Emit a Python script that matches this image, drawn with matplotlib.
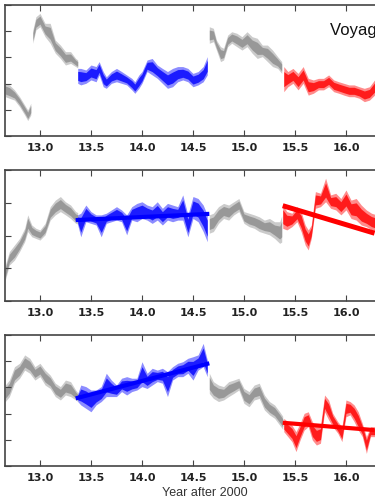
import matplotlib
matplotlib.use("Agg")
import matplotlib.pyplot as plt
import numpy as np

# ---------------- data (years after 2000, values in tick units) ----------------
# Panel 1
p1_grayA_x = [12.66, 12.70, 12.75, 12.80, 12.85, 12.88, 12.91]
p1_grayA_lo = [1.50, 1.44, 1.37, 1.12, 0.80, 0.59, 0.80]
p1_grayA_hi = [2.01, 1.95, 1.76, 1.50, 1.18, 0.99, 1.25]

p1_grayB_x = [12.93, 12.96, 13.00, 13.05, 13.10, 13.15, 13.20, 13.25, 13.30, 13.35, 13.37]
p1_grayB_lo = [3.54, 4.05, 4.17, 3.79, 3.54, 3.16, 2.96, 2.71, 2.77, 2.65, 2.60]
p1_grayB_hi = [4.05, 4.55, 4.68, 4.30, 4.30, 3.66, 3.47, 3.22, 3.22, 2.96, 2.90]

p1_blue_x = [13.37, 13.40, 13.45, 13.50, 13.55, 13.58, 13.62, 13.65, 13.70, 13.75, 13.80,
             13.85, 13.90, 13.93, 13.97, 14.00, 14.05, 14.10, 14.15, 14.20, 14.25, 14.30,
             14.35, 14.40, 14.45, 14.50, 14.55, 14.60, 14.64]
p1_blue_lo = [2.01, 1.95, 2.01, 2.14, 2.07, 2.33, 1.88, 1.82, 2.01, 2.07, 2.01,
              1.95, 1.76, 1.63, 1.82, 2.01, 2.46, 2.33, 2.20, 2.01, 1.82, 1.88,
              2.07, 2.14, 2.07, 1.88, 1.95, 2.07, 2.33]
p1_blue_hi = [2.58, 2.58, 2.52, 2.71, 2.65, 2.84, 2.46, 2.26, 2.46, 2.58, 2.46,
              2.33, 2.20, 2.07, 2.33, 2.46, 2.90, 2.96, 2.71, 2.58, 2.46, 2.58,
              2.65, 2.65, 2.58, 2.39, 2.46, 2.65, 3.03]

p1_grayC_x = [14.66, 14.70, 14.73, 14.77, 14.80, 14.84, 14.88, 14.93, 14.98, 15.03, 15.08,
              15.13, 15.18, 15.23, 15.28, 15.33, 15.37]
p1_grayC_lo = [3.54, 3.60, 3.28, 2.84, 2.90, 3.41, 3.54, 3.41, 3.28, 3.41, 3.16,
               2.96, 3.03, 2.84, 2.65, 2.58, 2.39]
p1_grayC_hi = [4.17, 4.11, 3.66, 3.41, 3.35, 3.85, 3.98, 3.92, 3.79, 3.98, 3.79,
               3.73, 3.47, 3.47, 3.28, 3.03, 2.84]

p1_red_x = [15.39, 15.43, 15.48, 15.53, 15.58, 15.63, 15.68, 15.73, 15.78, 15.83, 15.88,
            15.93, 15.98, 16.03, 16.08, 16.13, 16.18, 16.23, 16.28, 16.32]
p1_red_lo = [1.69, 1.88, 2.01, 1.76, 2.01, 1.56, 1.63, 1.76, 1.76, 1.88, 1.69,
             1.63, 1.56, 1.50, 1.50, 1.44, 1.31, 1.37, 1.56, 1.60]
p1_red_hi = [2.65, 2.46, 2.58, 2.39, 2.65, 2.20, 2.14, 2.20, 2.20, 2.33, 2.14,
             2.07, 2.01, 1.95, 1.95, 1.88, 1.82, 1.88, 2.14, 2.10]

# Panel 2
p2_grayA_x = [12.66, 12.70, 12.75, 12.80, 12.85, 12.88, 12.92, 12.96, 13.00, 13.05, 13.10,
              13.15, 13.20, 13.25, 13.30, 13.35, 13.37]
p2_grayA_lo = [0.64, 1.10, 1.25, 1.51, 1.81, 2.12, 1.96, 1.91, 1.86, 2.02, 2.47,
               2.63, 2.73, 2.63, 2.52, 2.37, 2.35]
p2_grayA_hi = [1.10, 1.51, 1.71, 1.91, 2.22, 2.63, 2.32, 2.22, 2.17, 2.37, 2.88,
               3.08, 3.19, 3.03, 2.93, 2.73, 2.70]

p2_blue_x = [13.37, 13.40, 13.45, 13.50, 13.55, 13.60, 13.65, 13.70, 13.75, 13.80, 13.85,
             13.90, 13.95, 14.00, 14.05, 14.10, 14.15, 14.20, 14.25, 14.30, 14.35, 14.40,
             14.45, 14.50, 14.55, 14.60, 14.64]
p2_blue_lo = [2.32, 1.96, 2.42, 2.37, 2.32, 1.96, 2.37, 2.42, 2.47, 2.42, 2.02,
              2.47, 2.42, 2.52, 2.47, 2.37, 2.47, 2.32, 2.47, 2.42, 2.47, 2.47,
              1.96, 2.52, 2.42, 2.12, 1.81]
p2_blue_hi = [2.63, 2.68, 2.93, 2.73, 2.63, 2.63, 2.68, 2.78, 2.88, 2.78, 2.63,
              2.88, 2.98, 3.03, 2.93, 2.88, 3.03, 2.83, 2.98, 2.93, 2.88, 3.24,
              2.63, 3.19, 3.13, 2.93, 2.63]
p2_blue_fit_x = [13.35, 14.66]
p2_blue_fit_y = [2.47, 2.66]

p2_grayC_x = [14.66, 14.70, 14.75, 14.80, 14.85, 14.90, 14.95, 15.00, 15.05, 15.10, 15.15,
              15.20, 15.25, 15.30, 15.35, 15.37]
p2_grayC_lo = [2.07, 2.12, 2.37, 2.52, 2.47, 2.63, 2.73, 2.37, 2.27, 2.22, 2.12,
               2.07, 2.02, 1.91, 1.76, 1.80]
p2_grayC_hi = [2.63, 2.68, 2.88, 2.98, 2.93, 3.03, 3.13, 2.73, 2.68, 2.63, 2.57,
               2.47, 2.52, 2.42, 2.42, 2.60]

p2_red_x = [15.38, 15.42, 15.47, 15.52, 15.56, 15.60, 15.63, 15.66, 15.70, 15.75, 15.80,
            15.85, 15.90, 15.95, 16.00, 16.05, 16.10, 16.15, 16.20, 16.25, 16.30]
p2_red_lo = [2.22, 2.17, 2.27, 2.42, 2.12, 1.71, 1.56, 1.91, 2.83, 2.88, 3.03,
             2.83, 2.78, 2.63, 2.78, 2.52, 2.47, 2.32, 2.27, 2.17, 2.12]
p2_red_hi = [2.93, 2.73, 2.68, 2.88, 2.73, 2.32, 2.17, 2.32, 3.34, 3.29, 3.75,
             3.24, 3.29, 3.13, 3.39, 3.08, 3.13, 2.93, 2.78, 2.68, 2.63]
p2_red_fit_x = [15.38, 16.28]
p2_red_fit_y = [2.91, 2.07]

# Panel 3
p3_grayA_x = [12.66, 12.70, 12.75, 12.80, 12.85, 12.90, 12.95, 13.00, 13.05, 13.10, 13.15,
              13.20, 13.25, 13.30, 13.35, 13.37]
p3_grayA_lo = [2.46, 2.65, 3.16, 3.35, 3.66, 3.54, 3.28, 3.41, 3.09, 2.96, 2.65,
               2.52, 2.71, 2.65, 2.52, 2.46]
p3_grayA_hi = [3.09, 3.28, 3.79, 3.92, 4.24, 4.11, 3.79, 3.92, 3.66, 3.47, 3.16,
               3.03, 3.28, 3.22, 2.90, 2.80]

p3_blue_x = [13.37, 13.40, 13.45, 13.50, 13.55, 13.60, 13.65, 13.70, 13.75, 13.80, 13.85,
             13.90, 13.95, 14.00, 14.05, 14.10, 14.15, 14.20, 14.25, 14.30, 14.35, 14.40,
             14.45, 14.50, 14.55, 14.60, 14.64]
p3_blue_lo = [2.46, 2.33, 2.20, 2.07, 2.33, 2.46, 2.65, 2.65, 2.65, 2.84, 2.71,
              2.84, 2.90, 3.03, 2.96, 3.09, 3.22, 3.16, 2.65, 3.28, 3.41, 3.41,
              3.54, 3.28, 3.66, 3.79, 3.41]
p3_blue_hi = [2.77, 3.09, 3.03, 2.90, 2.90, 3.03, 3.54, 3.28, 3.09, 3.35, 3.41,
              3.35, 3.35, 3.98, 3.54, 3.73, 3.66, 3.73, 3.60, 3.79, 3.92, 3.98,
              4.11, 4.17, 4.24, 4.68, 4.05]
p3_blue_fit_x = [13.35, 14.66]
p3_blue_fit_y = [2.58, 3.92]

p3_grayC_x = [14.66, 14.70, 14.75, 14.80, 14.85, 14.90, 14.95, 15.00, 15.05, 15.10, 15.15,
              15.20, 15.25, 15.30, 15.35, 15.38]
p3_grayC_lo = [2.77, 2.58, 2.46, 2.52, 2.65, 2.77, 2.90, 2.39, 2.26, 2.52, 2.58,
               2.14, 1.95, 1.82, 1.56, 1.40]
p3_grayC_hi = [3.54, 3.22, 3.09, 3.03, 3.22, 3.28, 3.35, 2.96, 2.84, 3.09, 3.16,
               2.71, 2.46, 2.33, 2.07, 1.90]

p3_red_x = [15.39, 15.43, 15.47, 15.51, 15.55, 15.59, 15.63, 15.67, 15.71, 15.75, 15.79,
            15.83, 15.87, 15.92, 15.96, 16.00, 16.04, 16.08, 16.12, 16.16, 16.20, 16.24, 16.30]
p3_red_lo = [1.31, 1.12, 0.93, 0.55, 0.99, 1.37, 1.50, 0.99, 0.80, 0.87, 2.07,
             1.76, 1.50, 1.25, 0.93, 1.88, 1.95, 1.69, 1.37, 1.12, 0.48, 1.12, 1.12]
p3_red_hi = [1.82, 1.69, 1.56, 1.31, 1.63, 2.01, 2.07, 1.69, 1.50, 1.56, 2.71,
             2.52, 2.01, 1.69, 1.50, 2.52, 2.46, 2.33, 2.07, 1.63, 1.12, 1.50, 1.50]
p3_red_fit_x = [15.38, 16.28]
p3_red_fit_y = [1.65, 1.37]

xticks = [13.0, 13.5, 14.0, 14.5, 15.0, 15.5, 16.0]
xticklabels = ["13.0", "13.5", "14.0", "14.5", "15.0", "15.5", "16.0"]
xlabel = "Year after 2000"
title_text = "Voyager 1"

# ---------------- styling / layout ----------------
GRAY = "#8c8c8c"
BLUE = "#0000ff"
RED = "#ff0000"
SPINE = "#444444"

W, H = 375, 500
x0, x1 = 12.657, 16.9
px_per_year = 102.0
ax_left = 5 / W
ax_width = (x1 - x0) * px_per_year / W

panels = [
    dict(top=5, bottom=136, ymax=5,
         bands=[(p1_grayA_x, p1_grayA_lo, p1_grayA_hi, GRAY),
                (p1_grayB_x, p1_grayB_lo, p1_grayB_hi, GRAY),
                (p1_blue_x, p1_blue_lo, p1_blue_hi, BLUE),
                (p1_grayC_x, p1_grayC_lo, p1_grayC_hi, GRAY),
                (p1_red_x, p1_red_lo, p1_red_hi, RED)],
         fits=[]),
    dict(top=170, bottom=301, ymax=4,
         bands=[(p2_grayA_x, p2_grayA_lo, p2_grayA_hi, GRAY),
                (p2_blue_x, p2_blue_lo, p2_blue_hi, BLUE),
                (p2_grayC_x, p2_grayC_lo, p2_grayC_hi, GRAY),
                (p2_red_x, p2_red_lo, p2_red_hi, RED)],
         fits=[(p2_blue_fit_x, p2_blue_fit_y, BLUE, 3.0),
               (p2_red_fit_x, p2_red_fit_y, RED, 3.6)]),
    dict(top=335, bottom=466, ymax=5,
         bands=[(p3_grayA_x, p3_grayA_lo, p3_grayA_hi, GRAY),
                (p3_blue_x, p3_blue_lo, p3_blue_hi, BLUE),
                (p3_grayC_x, p3_grayC_lo, p3_grayC_hi, GRAY),
                (p3_red_x, p3_red_lo, p3_red_hi, RED)],
         fits=[(p3_blue_fit_x, p3_blue_fit_y, BLUE, 3.0),
               (p3_red_fit_x, p3_red_fit_y, RED, 3.0)]),
]

fig = plt.figure(figsize=(W / 100, H / 100), dpi=100)
fig.patch.set_facecolor("white")

axes = []
for p in panels:
    ax = fig.add_axes([ax_left, 1 - p["bottom"] / H, ax_width, (p["bottom"] - p["top"]) / H])
    for (bx, blo, bhi, c) in p["bands"]:
        lo = np.asarray(blo)
        hi = np.asarray(bhi)
        mid = (lo + hi) / 2
        half = (hi - lo) / 2
        # faint outer cloud and denser core
        ax.fill_between(bx, lo, hi, color=c, alpha=0.45, linewidth=0)
        ax.fill_between(bx, mid - 0.6 * half, mid + 0.6 * half, color=c, alpha=0.8, linewidth=0)
    for (fx, fy, c, lw) in p["fits"]:
        ax.plot(fx, fy, color=c, linewidth=lw, solid_capstyle="butt")
    ax.set_xlim(x0, x1)
    ax.set_ylim(0, p["ymax"])
    ax.set_yticks(range(p["ymax"] + 1))
    ax.set_yticklabels([])
    ax.set_xticks(xticks)
    ax.set_xticklabels(xticklabels, fontsize=8, fontweight="bold",
                       family="DejaVu Sans", color="#222222")
    ax.tick_params(direction="in", length=4, width=0.8, color=SPINE,
                   top=True, bottom=True, left=True, right=True, pad=5)
    for s in ax.spines.values():
        s.set_color(SPINE)
        s.set_linewidth(1.2)
    axes.append(ax)

fig.text(330 / W, 1 - 31 / H, title_text, fontsize=12,
         family="Liberation Sans", color="#111111", va="center", ha="left")

fig.text(205 / W, 1 - 493 / H, xlabel, ha="center", va="center",
         fontsize=9, family="Liberation Sans", color="#333333")

fig.savefig("out.png", dpi=100)
